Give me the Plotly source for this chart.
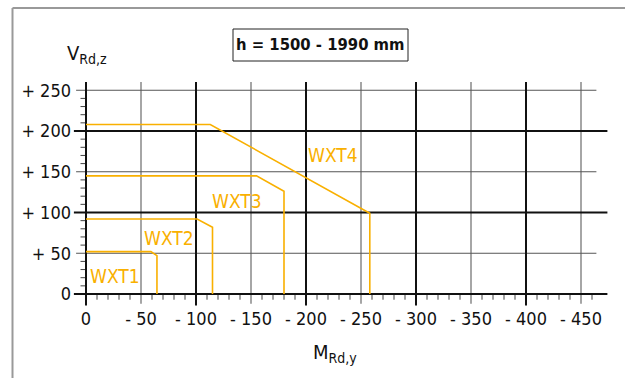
import plotly.graph_objects as go

# ---------------- data ----------------
wxt1_m = [0, -59, -64.5, -64.5]
wxt1_v = [52, 52, 47, 0]
wxt2_m = [0, -101, -115, -115]
wxt2_v = [92, 92, 82, 0]
wxt3_m = [0, -155, -180, -180]
wxt3_v = [145, 145, 126, 0]
wxt4_m = [0, -113, -258, -258]
wxt4_v = [208, 208, 99, 0]

series_names = ["WXT1", "WXT2", "WXT3", "WXT4"]
label_m = [-26, -75.5, -137.5, -224.5]
label_v = [22, 69, 114, 170]

x_tickvals = [0, -50, -100, -150, -200, -250, -300, -350, -400, -450]
x_ticktext = ["0", "- 50", "- 100", "- 150", "- 200", "- 250", "- 300", "- 350", "- 400", "- 450"]
y_tickvals = [0, 50, 100, 150, 200, 250]
y_ticktext = ["0", "+ 50", "+ 100", "+ 150", "+ 200", "+ 250"]

title_text = "<b>h = 1500 - 1990 mm</b>"
y_title = "V<sub>Rd,z</sub>"
x_title = "M<sub>Rd,y</sub>"

# ---------------- layout geometry ----------------
W, H = 625, 378
L, R, T, B = 72, 610, 75, 306
X0PX, XSCALE = 86, 1.1      # pixel of M=0, px per unit
Y0PX, YSCALE = 294, 0.815   # pixel of V=0, px per unit

xr = [(X0PX - L) / XSCALE, -(R - X0PX) / XSCALE]
yr = [-(B - Y0PX) / YSCALE, (Y0PX - T) / YSCALE]

def px_x(p):
    return (p - L) / (R - L)

def px_y(p):
    return (B - p) / (B - T)

FONT = "DejaVu Sans Condensed, Liberation Sans Narrow, Roboto, sans-serif"
ORANGE = "#F9B000"

fig = go.Figure()

def seg_trace(xs, ys, color, width):
    fig.add_trace(go.Scatter(x=xs, y=ys, mode="lines",
                             line=dict(color=color, width=width),
                             hoverinfo="skip", showlegend=False))

major_x = [v for v in x_tickvals if v % 100 == 0]
minor_x = [v for v in x_tickvals if v % 100 != 0]
major_y = [v for v in y_tickvals if v % 100 == 0]
minor_y = [v for v in y_tickvals if v % 100 != 0]
ytop = 260

xs, ys = [], []
for v in minor_x:
    xs += [v, v, None]; ys += [-12, ytop, None]
seg_trace(xs, ys, "#A6A6A6", 2)

xs, ys = [], []
for v in minor_y:
    xs += [9, -464, None]; ys += [v, v, None]
seg_trace(xs, ys, "#555555", 1)

# minor ticks
xs, ys = [], []
for v in range(-10, -470, -10):
    if v % 50 != 0:
        xs += [v, v, None]; ys += [0, -7, None]
for v in range(10, 250, 10):
    if v % 50 != 0:
        xs += [0, 5, None]; ys += [v, v, None]
seg_trace(xs, ys, "#444444", 1)

xs, ys = [], []
for v in major_x:
    xs += [v, v, None]; ys += [-14, ytop, None]
for v in major_y:
    xs += [11, -474, None]; ys += [v, v, None]
seg_trace(xs, ys, "#111111", 2)

# curves
for mm, vv in [(wxt1_m, wxt1_v), (wxt2_m, wxt2_v), (wxt3_m, wxt3_v), (wxt4_m, wxt4_v)]:
    fig.add_trace(go.Scatter(x=mm, y=vv, mode="lines",
                             line=dict(color=ORANGE, width=1.6),
                             hoverinfo="skip", showlegend=False))

for name, m, v in zip(series_names, label_m, label_v):
    fig.add_annotation(x=m, y=v, text=name, showarrow=False,
                       font=dict(family=FONT, size=19, color=ORANGE),
                       xanchor="center", yanchor="middle")

# title box
fig.add_shape(type="rect", xref="paper", yref="paper",
              x0=px_x(233), x1=px_x(408), y0=px_y(61), y1=px_y(29),
              line=dict(color="#222222", width=1), layer="below")
fig.add_annotation(xref="paper", yref="paper", x=px_x(320), y=px_y(45),
                   text=title_text, showarrow=False,
                   font=dict(family=FONT, size=16.5, color="#111111"),
                   xanchor="center", yanchor="middle")

# axis titles
fig.add_annotation(xref="paper", yref="paper", x=px_x(65), y=px_y(54),
                   text=y_title, showarrow=False, xanchor="left", yanchor="middle",
                   font=dict(family=FONT, size=20, color="#111111"))
fig.add_annotation(xref="paper", yref="paper", x=px_x(311), y=px_y(353),
                   text=x_title, showarrow=False, xanchor="left", yanchor="middle",
                   font=dict(family=FONT, size=20, color="#111111"))

# outer frame
fig.add_shape(type="line", xref="paper", yref="paper",
              x0=px_x(12.5), x1=px_x(12.5), y0=px_y(8), y1=px_y(400),
              line=dict(color="#999999", width=2))
fig.add_shape(type="line", xref="paper", yref="paper",
              x0=px_x(12.5), x1=px_x(640), y0=px_y(8), y1=px_y(8),
              line=dict(color="#999999", width=2))

fig.update_xaxes(range=xr, tickvals=x_tickvals, ticktext=x_ticktext,
                 showgrid=False, zeroline=False, showline=False, ticks="",
                 automargin=False,
                 tickfont=dict(family=FONT, size=18, color="#111111"),
                 ticklabelstandoff=0)
fig.update_yaxes(range=yr, tickvals=y_tickvals, ticktext=y_ticktext,
                 showgrid=False, zeroline=False, showline=False, ticks="",
                 automargin=False,
                 tickfont=dict(family=FONT, size=18, color="#111111"),
                 ticklabelstandoff=0)

fig.update_layout(width=W, height=H,
                  margin=dict(l=L, r=W - R, t=T, b=H - B, pad=0),
                  plot_bgcolor="white", paper_bgcolor="white",
                  showlegend=False)

fig.write_html("out.html", config={"displayModeBar": False},
               post_script="document.body.style.margin='0px';document.body.style.overflow='hidden';")
